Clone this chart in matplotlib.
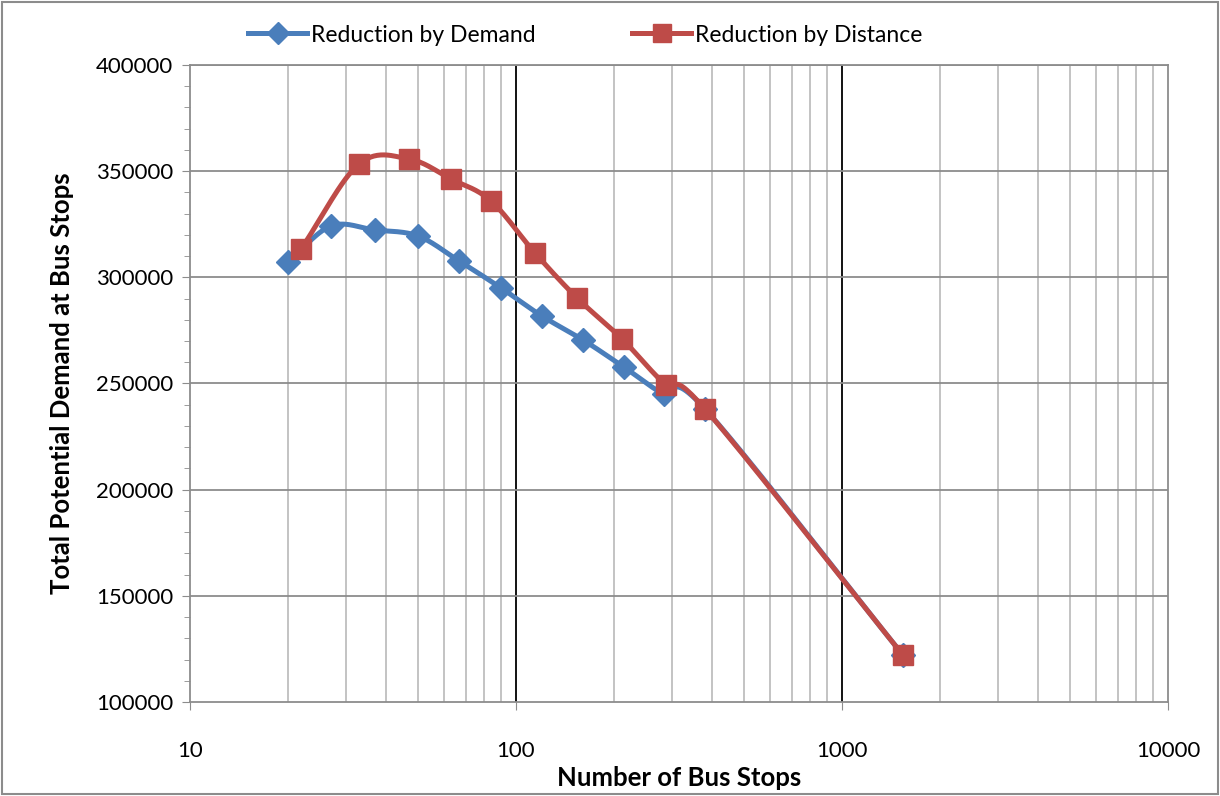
import numpy as np
import matplotlib
matplotlib.use("Agg")
import matplotlib.pyplot as plt
from matplotlib.ticker import FixedLocator, NullFormatter, FuncFormatter
from matplotlib.lines import Line2D
from matplotlib.patches import Rectangle

# Series data
demand_stops = [20.0, 27.1, 36.9, 50.0, 66.9, 90.0, 120, 160.6, 214, 284, 380, 1538]
demand_total = [307300, 324200, 322300, 319500, 307700, 295000, 281800, 270500, 257800, 245000, 238000, 122100]

distance_stops = [21.9, 33.0, 47.0, 63.2, 83.8, 114.3, 153.9, 211.5, 288.5, 380, 1538]
distance_total = [313300, 353400, 355700, 346300, 336000, 311500, 290300, 271000, 249300, 238000, 122100]

series_names = ["Reduction by Demand", "Reduction by Distance"]
x_ticks = [10, 100, 1000, 10000]
y_ticks = [100000, 150000, 200000, 250000, 300000, 350000, 400000]

BLUE = "#4A7EBB"
RED = "#BE4B48"
FONT = ["Lato", "DejaVu Sans"]
plt.rcParams["font.family"] = FONT


def smooth(xs, ys, n=30, tension=0.5):
    """Cardinal spline through the points, computed in log-x space."""
    lx = np.log10(np.asarray(xs, float))
    y = np.asarray(ys, float)
    px = np.concatenate([[2 * lx[0] - lx[1]], lx, [2 * lx[-1] - lx[-2]]])
    py = np.concatenate([[2 * y[0] - y[1]], y, [2 * y[-1] - y[-2]]])
    out_x, out_y = [], []
    t = np.linspace(0, 1, n)
    for i in range(1, len(px) - 2):
        p0, p1, p2, p3 = (np.array([px[j], py[j]]) for j in range(i - 1, i + 3))
        m1 = tension * (p2 - p0)
        m2 = tension * (p3 - p1)
        h00 = 2 * t**3 - 3 * t**2 + 1
        h10 = t**3 - 2 * t**2 + t
        h01 = -2 * t**3 + 3 * t**2
        h11 = t**3 - t**2
        seg = (np.outer(h00, p1) + np.outer(h10, m1) + np.outer(h01, p2) + np.outer(h11, m2))
        out_x.extend(seg[:, 0])
        out_y.extend(seg[:, 1])
    return 10 ** np.array(out_x), np.array(out_y)


fig = plt.figure(figsize=(12.2, 7.96), dpi=100)
fig.patches.append(Rectangle((0.002, 0.002), 0.996, 0.996, transform=fig.transFigure,
                             fill=False, edgecolor="#8C8C8C", linewidth=1.5))
ax = fig.add_axes([190 / 1220, 1 - 702 / 796, 978 / 1220, 637 / 796])

ax.set_xscale("log")
ax.set_xlim(10, 10000)
ax.set_ylim(100000, 400000)

# Grid
minor_x = [m * 10**e for e in range(1, 4) for m in range(2, 10)]
for v in minor_x:
    ax.axvline(v, color="#BEBEBE", linewidth=1.3, zorder=0)
for v in [100, 1000]:
    ax.axvline(v, color="black", linewidth=1.3, zorder=0.5)
for v in y_ticks[1:]:
    ax.axhline(v, color="#8C8C8C", linewidth=1.3, zorder=0.5)

for s in ax.spines.values():
    s.set_color("#8C8C8C")
    s.set_linewidth(1.3)

ax.xaxis.set_major_locator(FixedLocator(x_ticks))
ax.xaxis.set_minor_locator(FixedLocator([]))
ax.xaxis.set_major_formatter(FuncFormatter(lambda v, p: f"{int(v)}"))
ax.yaxis.set_major_locator(FixedLocator(y_ticks))
ax.yaxis.set_minor_locator(FixedLocator(list(range(100000, 400001, 10000))))
ax.yaxis.set_minor_formatter(NullFormatter())
ax.yaxis.set_major_formatter(FuncFormatter(lambda v, p: f"{int(v)}"))
ax.tick_params(axis="y", which="major", length=6, color="#8C8C8C", labelsize=16, pad=6)
ax.tick_params(axis="y", which="minor", length=4, color="#8C8C8C")
ax.tick_params(axis="x", which="major", length=6, color="#8C8C8C", labelsize=16, pad=22)

ax.set_xlabel("Number of Bus Stops", fontsize=18.5, fontweight="bold", labelpad=4)
ax.set_ylabel("Total Potential Demand at Bus Stops", fontsize=18.5, fontweight="bold", labelpad=16)

# Curves
sx, sy = smooth(demand_stops, demand_total)
ax.plot(sx, sy, color=BLUE, linewidth=3.6, zorder=3, solid_capstyle="round")
ax.plot(demand_stops, demand_total, linestyle="none", marker="D", markersize=12.5,
        color=BLUE, zorder=4)

sx, sy = smooth(distance_stops, distance_total)
ax.plot(sx, sy, color=RED, linewidth=3.6, zorder=5, solid_capstyle="round")
ax.plot(distance_stops, distance_total, linestyle="none", marker="s", markersize=15,
        color=RED, zorder=6)

handles = [
    Line2D([], [], color=BLUE, linewidth=3.6, marker="D", markersize=11),
    Line2D([], [], color=RED, linewidth=3.6, marker="s", markersize=13.5),
]
fig.legend(handles, series_names, loc="center", bbox_to_anchor=(585 / 1220, 1 - 35 / 796),
           ncol=2, frameon=False, fontsize=16.5, handlelength=2.6, columnspacing=4.2,
           handletextpad=0.15)

fig.savefig("out.png", dpi=100)
